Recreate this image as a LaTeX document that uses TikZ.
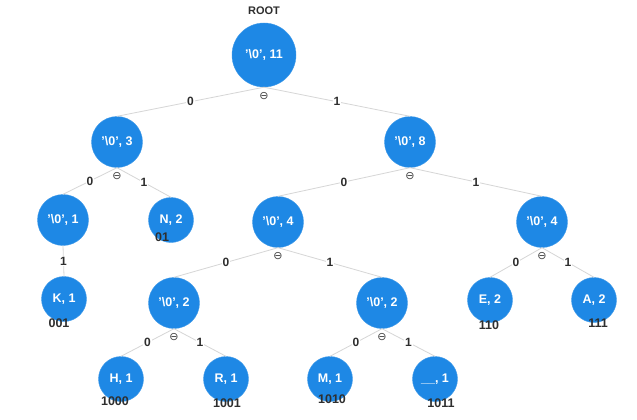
\documentclass[tikz,border=0pt]{standalone}
\usepackage{fontspec}
\setmainfont{Liberation Sans}
\newfontfamily\symfont{DejaVu Sans}
\definecolor{nodeblue}{HTML}{1E88E5}
\definecolor{edgegray}{HTML}{D6D6D6}
\definecolor{txt}{HTML}{2E2E2E}
\definecolor{toggray}{HTML}{444444}
\newcommand\zq{\char39\textbackslash 0\char39}
\begin{document}
\begin{tikzpicture}[x=1pt,y=-1pt,
  hn/.style={circle, fill=nodeblue, draw=nodeblue!85!white, inner sep=0, text=white,
    font=\bfseries\fontsize{12.5}{14}\selectfont},
  big/.style={hn, minimum size=64pt},
  mid/.style={hn, minimum size=51pt},
  leaf/.style={hn, minimum size=45pt},
  edge/.style={draw=edgegray, line width=0.8pt},
  elab/.style={fill=white, inner sep=1pt, text=txt, font=\bfseries\fontsize{12}{14}\selectfont},
  code/.style={text=txt, inner sep=0, font=\bfseries\fontsize{12.5}{14}\selectfont},
  tog/.style={text=toggray, inner sep=0, font=\symfont\fontsize{11}{11}\selectfont},
  ttl/.style={text=txt, inner sep=0, font=\bfseries\fontsize{11}{13}\selectfont}
]
\useasboundingbox[fill=white] (0,0) rectangle (637,420);

% nodes
\node[ttl] (title) at (264,11) {ROOT};
\node[big] (root) at (264,55) {\zq, 11};
\node[mid] (n3) at (117,142) {\zq, 3};
\node[mid] (n8) at (410,142) {\zq, 8};
\node[mid] (n1) at (63,220) {\zq, 1};
\node[leaf] (N) at (171,220) {N, 2};
\node[mid] (m4) at (278,222) {\zq, 4};
\node[mid] (r4) at (542,222) {\zq, 4};
\node[leaf] (K) at (64,299) {K, 1};
\node[mid] (l2) at (174,303) {\zq, 2};
\node[mid] (q2) at (382,303) {\zq, 2};
\node[leaf] (E) at (490,300) {E, 2};
\node[leaf] (A) at (594,300) {A, 2};
\node[leaf] (H) at (121,379) {H, 1};
\node[leaf] (R) at (226,379) {R, 1};
\node[leaf] (M) at (330,379) {M, 1};
\node[leaf] (U) at (435,379) {\_\_, 1};

% edges
\draw[edge] (root.south) -- (n3.north) node[midway, elab] {0};
\draw[edge] (root.south) -- (n8.north) node[midway, elab] {1};
\draw[edge] (n3.south) -- (n1.north) node[midway, elab] {0};
\draw[edge] (n3.south) -- (N.north) node[midway, elab] {1};
\draw[edge] (n1.south) -- (K.north) node[midway, elab] {1};
\draw[edge] (n8.south) -- (m4.north) node[midway, elab] {0};
\draw[edge] (n8.south) -- (r4.north) node[midway, elab] {1};
\draw[edge] (m4.south) -- (l2.north) node[midway, elab] {0};
\draw[edge] (m4.south) -- (q2.north) node[midway, elab] {1};
\draw[edge] (r4.south) -- (E.north) node[midway, elab] {0};
\draw[edge] (r4.south) -- (A.north) node[midway, elab] {1};
\draw[edge] (l2.south) -- (H.north) node[midway, elab] {0};
\draw[edge] (l2.south) -- (R.north) node[midway, elab] {1};
\draw[edge] (q2.south) -- (M.north) node[midway, elab] {0};
\draw[edge] (q2.south) -- (U.north) node[midway, elab] {1};

% collapse toggles
\node[tog] (t0) at ([yshift=-9pt]root.south) {⊖};
\node[tog] (t3) at ([yshift=-8pt]n3.south) {⊖};
\node[tog] (t8) at ([yshift=-8pt]n8.south) {⊖};
\node[tog] (tm) at ([yshift=-8pt]m4.south) {⊖};
\node[tog] (tr) at ([yshift=-8pt]r4.south) {⊖};
\node[tog] (tl) at ([yshift=-8pt]l2.south) {⊖};
\node[tog] (tq) at ([yshift=-8pt]q2.south) {⊖};

% codes
\node[code] (cN) at (162,237) {01};
\node[code] (cK) at (59,323) {001};
\node[code] (cH) at (115,401) {1000};
\node[code] (cR) at (227,403) {1001};
\node[code] (cM) at (332,399) {1010};
\node[code] (cU) at (441,403) {1011};
\node[code] (cE) at (489,325) {110};
\node[code] (cA) at (598,323) {111};
\end{tikzpicture}
\end{document}
